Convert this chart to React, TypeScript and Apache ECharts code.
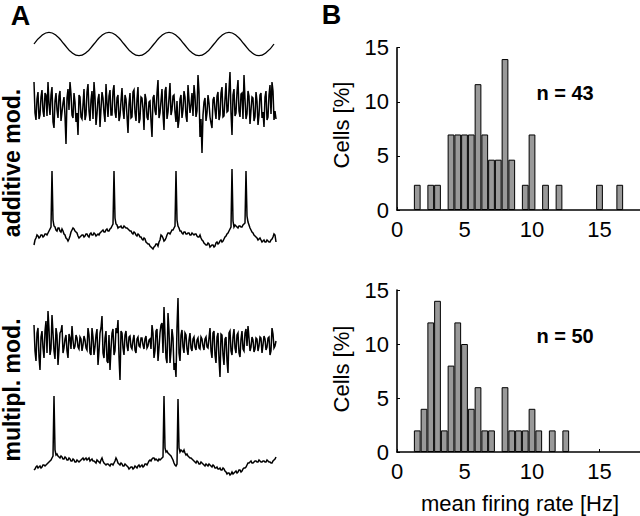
import React, { useEffect, useRef } from 'react';
import * as echarts from 'echarts';

const FONT = '"Liberation Sans", Arial, Helvetica, sans-serif';

// Panel A: stimulus modulation (sine), 4 cycles
const SINE = [0, 0.71, 1, 0.71, 0, -0.71, -1, -0.71, 0, 0.71, 1, 0.71, 0, -0.71, -1, -0.71,
  0, 0.71, 1, 0.71, 0, -0.71, -1, -0.71, 0, 0.71, 1, 0.71, 0, -0.71, -1, -0.71, 0];

// additive modulation: input current (noise), even samples
const ADD_INPUT = [25, -13, 15, -8, 17, -10, 12, 25, -8, 20, -21, 14, -11, 16, -5, 10, -37, 18, 25, -8,
  14, -15, -28, 10, -12, 18, -8, 23, -14, 16, 25, -18, 8, -20, 15, -6, 23, -10, 17, -8,
  22, -11, 12, -9, 19, -12, 8, -26, 14, -10, 17, -14, 20, -12, 9, -23, 8, -13, 6, -30,
  12, -8, 27, -6, 18, -23, 20, -5, 24, -3, 12, -15, -21, 8, -11, 16, -9, 22, -6, 14,
  22, -10, 32, -30, -46, 5, -14, 12, -10, -21, 10, -12, 15, -8, 20, -9, 24, -4, 35, -28,
  18, -6, 27, -10, 14, 32, -12, 16, -17, 10, -14, 15, -18, 12, -11, -20, 16, -10, 22, 25,
  -13, -12];
// additive modulation: input current, odd samples (in between)
const ADD_INPUT_MID = [-6, 8, -12, 10, -4, 14, -9, 3, 12, -15, 6, -3, 11, -14, 4, -9, 9, -3, 13, -11,
  5, -6, 12, -10, 2, -13, 15, -4, 7, -12, 10, -7, 13, -2, 9, -15, 4, 11, -8, 16,
  -5, 9, -14, 6, -3, 12, -9, 3, -11, 15, -6, 8, -16, 10, -2, 13, -10, 5, -14, 9,
  -4, 14, -11, 6, -7, 16, -12, 9, -8, 11, -5, 6, -13, 12, -3, 10, -15, 7, 2, -9,
  11, -4, 15, -12, -8, 9, -6, 4, -16, 7, -3, 11, -13, 14, -10, 8, -5, 17, -6, 12,
  -9, 15, -4, 13, -12, 8, -7, 11, -3, 9, -10, 6, -8, 14, -5, 10, -13, 12, -7, 16,
  -4];

// additive modulation: membrane potential with spikes
const ADD_VM = [-9, -2, 0, -1, 1, 0, 2, 3, 7, 65, 10, 6, 8, 5, 7, 2, -2, -5, 0, 6,
  7, 4, 0, -1, 1, -1, 2, 0, 2, 1, 3, 0, 2, 3, 5, 4, 6, 5, 7, 10,
  65, 12, 8, 9, 8, 10, 8, 7, 5, 3, 4, 1, 2, -1, -3, -2, -6, -8, -10, -12,
  -11, -8, -10, -4, 0, -5, -2, 3, 2, 6, 8, 65, 10, 5, 3, 4, 2, 3, 1, 3,
  1, 2, -1, 1, -4, -7, -9, -7, -11, -9, -11, -7, -8, -5, -6, -3, 0, 3, 7, 67,
  9, 10, 8, 10, 9, 12, 65, 14, 8, 4, 1, -1, -4, -2, -6, -4, -6, -5, -6, -3,
  2, -6];
const ADD_VM_MID = [-4, 1, -2, 1, -1, 2, 1, 5, 9, 16, 9, 5, 8, 4, 5, 1, -3, -3, 4, 8,
  5, 3, -2, 0, 1, 0, 2, -1, 3, 1, 2, 1, 1, 4, 6, 4, 7, 5, 8, 12,
  18, 11, 9, 10, 8, 9, 8, 6, 5, 2, 3, 0, 1, -1, -4, -3, -7, -8, -11, -13,
  -10, -8, -6, 1, -2, -4, 1, 3, 4, 6, 10, 16, 8, 5, 2, 4, 2, 3, 1, 2,
  2, 0, -1, -2, -5, -8, -9, -8, -10, -9, -10, -6, -7, -4, -5, -1, 2, 5, 9, 15,
  11, 9, 10, 9, 11, 13, 20, 11, 6, 3, 0, -2, -3, -4, -5, -6, -4, -6, -4, -1,
  1];

// multiplicative modulation: input current (noise), even samples
const MUL_INPUT = [18, -18, 15, -27, 12, -15, 22, 32, -12, 28, -8, 15, -22, 10, 18, -5, 8, -15, 5, 17,
  -6, 8, -4, 6, -8, 7, -5, 15, -10, 15, -12, 8, -22, 10, 27, -15, 12, -20, -27, 10,
  -12, 15, 23, -37, 10, -12, 12, -8, 7, -6, 8, -10, 6, -4, 5, -6, 7, -3, 4, 18,
  -15, 12, -18, 10, 20, 36, -15, 30, -20, 14, -27, -34, 45, -18, 13, -10, 8, -12, 10, -8,
  6, -7, 5, -6, 4, -7, 6, -5, 15, -15, 12, -20, 10, -34, 8, -22, 6, -30, 12, -12,
  14, -10, 10, -14, 12, -8, 14, 17, -8, 6, -9, 5, -8, 6, -10, 7, -7, 5, -12, 15,
  -5, 2];
const MUL_INPUT_MID = [-8, 10, -14, 6, -5, 12, -10, 14, -6, 10, -16, 8, -6, 12, -10, 4, -8, 9, -6, 3,
  -3, 5, -6, 4, -2, 3, -7, 8, -12, 6, -4, 14, -8, 15, -10, 5, -18, 8, -6, 14,
  -8, 10, -14, 12, -5, 8, -3, 6, -4, 3, -7, 4, -3, 5, -2, 4, -5, 3, -6, 10,
  -8, 14, -5, 18, -10, 8, -20, 12, -8, 5, -20, 16, -10, 8, -4, 10, -6, 3, -5, 4,
  -4, 3, -5, 6, -3, 4, -4, 5, -8, 10, -12, 6, -16, 9, -12, 4, -18, 10, -8, 6,
  -5, 8, -10, 4, -6, 10, -3, 5, -4, 3, -6, 4, -3, 5, -2, 4, -4, 6, -8, 9,
  -3];

// multiplicative modulation: membrane potential with spikes
const MUL_VM = [-8, -5, -6, -4, -5, -3, -3, -1, 1, 4, 66, 7, 6, 4, 5, 3, 4, 2, 3, 1,
  2, 0, 1, 1, 3, 2, 4, 3, 1, 3, 1, -1, 1, -1, 4, -1, -3, -2, -4, -2,
  -1, 4, -1, -3, -2, -4, -3, -5, -6, -5, -6, -5, -4, -5, -3, -4, -2, -1, 2, 3,
  4, 3, 1, 2, 4, 66, 10, 9, 7, 4, -1, -4, 63, 10, 11, 12, 7, 6, 4, 3,
  1, -1, 0, -2, -1, -3, -2, -4, -3, -5, -4, -6, -7, -6, -8, -7, -10, -11, -13, -10,
  -11, -9, -10, -8, -9, -6, -5, -1, 0, -1, 0, 1, 0, 1, 0, 1, 0, 1, 0, -1,
  2, 5];
const MUL_VM_MID = [-7, -4, -5, -6, -3, -4, -2, 0, 2, 6, 12, 8, 5, 6, 3, 5, 2, 4, 1, 3,
  0, 2, 0, 2, 4, 3, 2, 4, 2, 1, 0, 2, 0, 2, 1, -2, -2, -3, -2, -3,
  1, 2, -2, -1, -4, -2, -4, -7, -5, -7, -4, -6, -3, -4, -5, -2, -3, 1, 1, 4,
  2, 2, 3, 3, 5, 14, 11, 8, 6, 2, -3, -2, 14, 12, 10, 9, 8, 5, 4, 2,
  0, 1, -2, 0, -2, -4, -3, -2, -4, -3, -6, -5, -7, -8, -6, -9, -12, -11, -12, -12,
  -10, -11, -8, -10, -7, -6, -3, -1, 1, -1, 1, 0, 2, 0, 1, 0, 2, 0, -1, 1,
  3];

// Panel B: histograms of mean firing rate (bin centres in Hz, % of cells)
const ADD_BINS = [1.5, 2.5, 3.0, 4.0, 4.5, 5.0, 5.5, 6.0, 6.5, 7.0, 7.5, 8.0, 8.5, 9.5, 10.0, 11.0, 12.0, 15.0, 16.5];
const ADD_PCT = [2.33, 2.33, 2.33, 6.98, 6.98, 6.98, 6.98, 11.63, 6.98, 4.65, 4.65, 13.95, 4.65, 2.33, 6.98, 2.33, 2.33, 2.33, 2.33];
const MUL_BINS = [1.5, 2.0, 2.5, 3.0, 3.5, 4.0, 4.5, 5.0, 5.5, 6.0, 6.5, 7.0, 8.0, 8.5, 9.0, 9.5, 10.0, 10.5, 11.5, 12.5];
const MUL_PCT = [2, 4, 12, 14, 2, 8, 12, 10, 4, 6, 2, 2, 6, 2, 2, 2, 4, 2, 2, 2];

const TICKS_X = [0, 5, 10, 15];

// merge the even samples with the in-between samples into one trace
function interleave(even: number[], odd: number[]): number[] {
  const out: number[] = [];
  even.forEach((v, k) => {
    out.push(v);
    if (k < odd.length) out.push(odd[k]);
  });
  return out;
}

export default function App() {
  const ref = useRef<HTMLDivElement>(null);

  useEffect(() => {
    document.body.style.margin = '0';
    const chart = echarts.init(ref.current!, null, { renderer: 'svg' });

    const traces = [
      { data: SINE, grid: { left: 34, top: 32.3, width: 240, height: 23.4 }, min: -1, max: 1, w: 1.3, smooth: true },
      { data: interleave(ADD_INPUT, ADD_INPUT_MID), grid: { left: 34, top: 67, width: 242, height: 90 }, min: -50, max: 40, w: 1.5, smooth: false },
      { data: interleave(ADD_VM, ADD_VM_MID), grid: { left: 34, top: 166, width: 242, height: 85 }, min: -15, max: 70, w: 1.5, smooth: false },
      { data: interleave(MUL_INPUT, MUL_INPUT_MID), grid: { left: 34, top: 293, width: 242, height: 90 }, min: -40, max: 50, w: 1.5, smooth: false },
      { data: interleave(MUL_VM, MUL_VM_MID), grid: { left: 34, top: 392, width: 242, height: 85 }, min: -15, max: 70, w: 1.5, smooth: false },
    ];

    const grids: any[] = traces.map((t) => ({ ...t.grid, containLabel: false }));
    const xAxes: any[] = traces.map((t, i) => ({
      type: 'category', gridIndex: i, show: false, boundaryGap: false,
      data: t.data.map((_, k) => k),
    }));
    const yAxes: any[] = traces.map((t, i) => ({
      type: 'value', gridIndex: i, show: false, min: t.min, max: t.max,
    }));
    const series: any[] = traces.map((t, i) => ({
      type: 'line', xAxisIndex: i, yAxisIndex: i, data: t.data,
      showSymbol: false, symbol: 'none', smooth: t.smooth, clip: false,
      lineStyle: { color: '#000', width: t.w, join: 'miter' }, silent: true,
    }));

    const hists = [
      { bins: ADD_BINS, pct: ADD_PCT, grid: { left: 397, top: 47.7, width: 243, height: 162.3 } },
      { bins: MUL_BINS, pct: MUL_PCT, grid: { left: 397, top: 290, width: 243, height: 162 } },
    ];
    hists.forEach((h, j) => {
      const gi = traces.length + j;
      grids.push({ ...h.grid, containLabel: false });
      xAxes.push({
        type: 'value', gridIndex: gi, min: 0, max: 18,
        axisLine: { show: true, lineStyle: { color: '#000', width: 1.6 } },
        axisTick: { show: true, inside: true, length: 3, customValues: TICKS_X, lineStyle: { color: '#000', width: 1 } },
        axisLabel: { customValues: TICKS_X, color: '#000', fontFamily: FONT, fontSize: 22, margin: 8 },
        splitLine: { show: false },
      });
      yAxes.push({
        type: 'value', gridIndex: gi, min: 0, max: 15, interval: 5,
        axisLine: { show: true, lineStyle: { color: '#000', width: 1.6 } },
        axisTick: { show: true, inside: true, length: 3, lineStyle: { color: '#000', width: 1 } },
        axisLabel: { color: '#000', fontFamily: FONT, fontSize: 22, margin: 8 },
        splitLine: { show: false },
      });
      series.push({
        type: 'bar', xAxisIndex: gi, yAxisIndex: gi,
        data: h.bins.map((b, k) => [b, h.pct[k]]),
        barWidth: 6.75,
        itemStyle: { color: '#999999', borderColor: '#000', borderWidth: 1 },
        silent: true,
      });
    });

    const txt = (text: string, x: number, y: number, size: number, bold: boolean, rot = 0) => ({
      type: 'text', x, y, rotation: rot, silent: true,
      style: {
        text, fill: '#000',
        font: `${bold ? 'bold ' : ''}${size}px ${FONT}`,
        textAlign: 'center', textVerticalAlign: 'middle',
        align: 'center', verticalAlign: 'middle',
      },
    });

    const option: any = {
      animation: false,
      backgroundColor: '#fff',
      grid: grids,
      xAxis: xAxes,
      yAxis: yAxes,
      series,
      graphic: [
        txt('A', 20.5, 16, 27, true),
        txt('B', 331.5, 14.5, 27, true),
        txt('additive mod.', 12, 163, 23, true, Math.PI / 2),
        txt('multipl. mod.', 12, 390, 23, true, Math.PI / 2),
        txt('Cells [%]', 341, 125, 22, false, Math.PI / 2),
        txt('Cells [%]', 341, 369, 22, false, Math.PI / 2),
        txt('n = 43', 565, 93, 20, true),
        txt('n = 50', 565, 336, 20, true),
        txt('mean firing rate [Hz]', 520, 503, 22, false),
      ],
    };
    chart.setOption(option);
    return () => chart.dispose();
  }, []);

  return <div ref={ref} style={{ width: 640, height: 516 }} />;
}
